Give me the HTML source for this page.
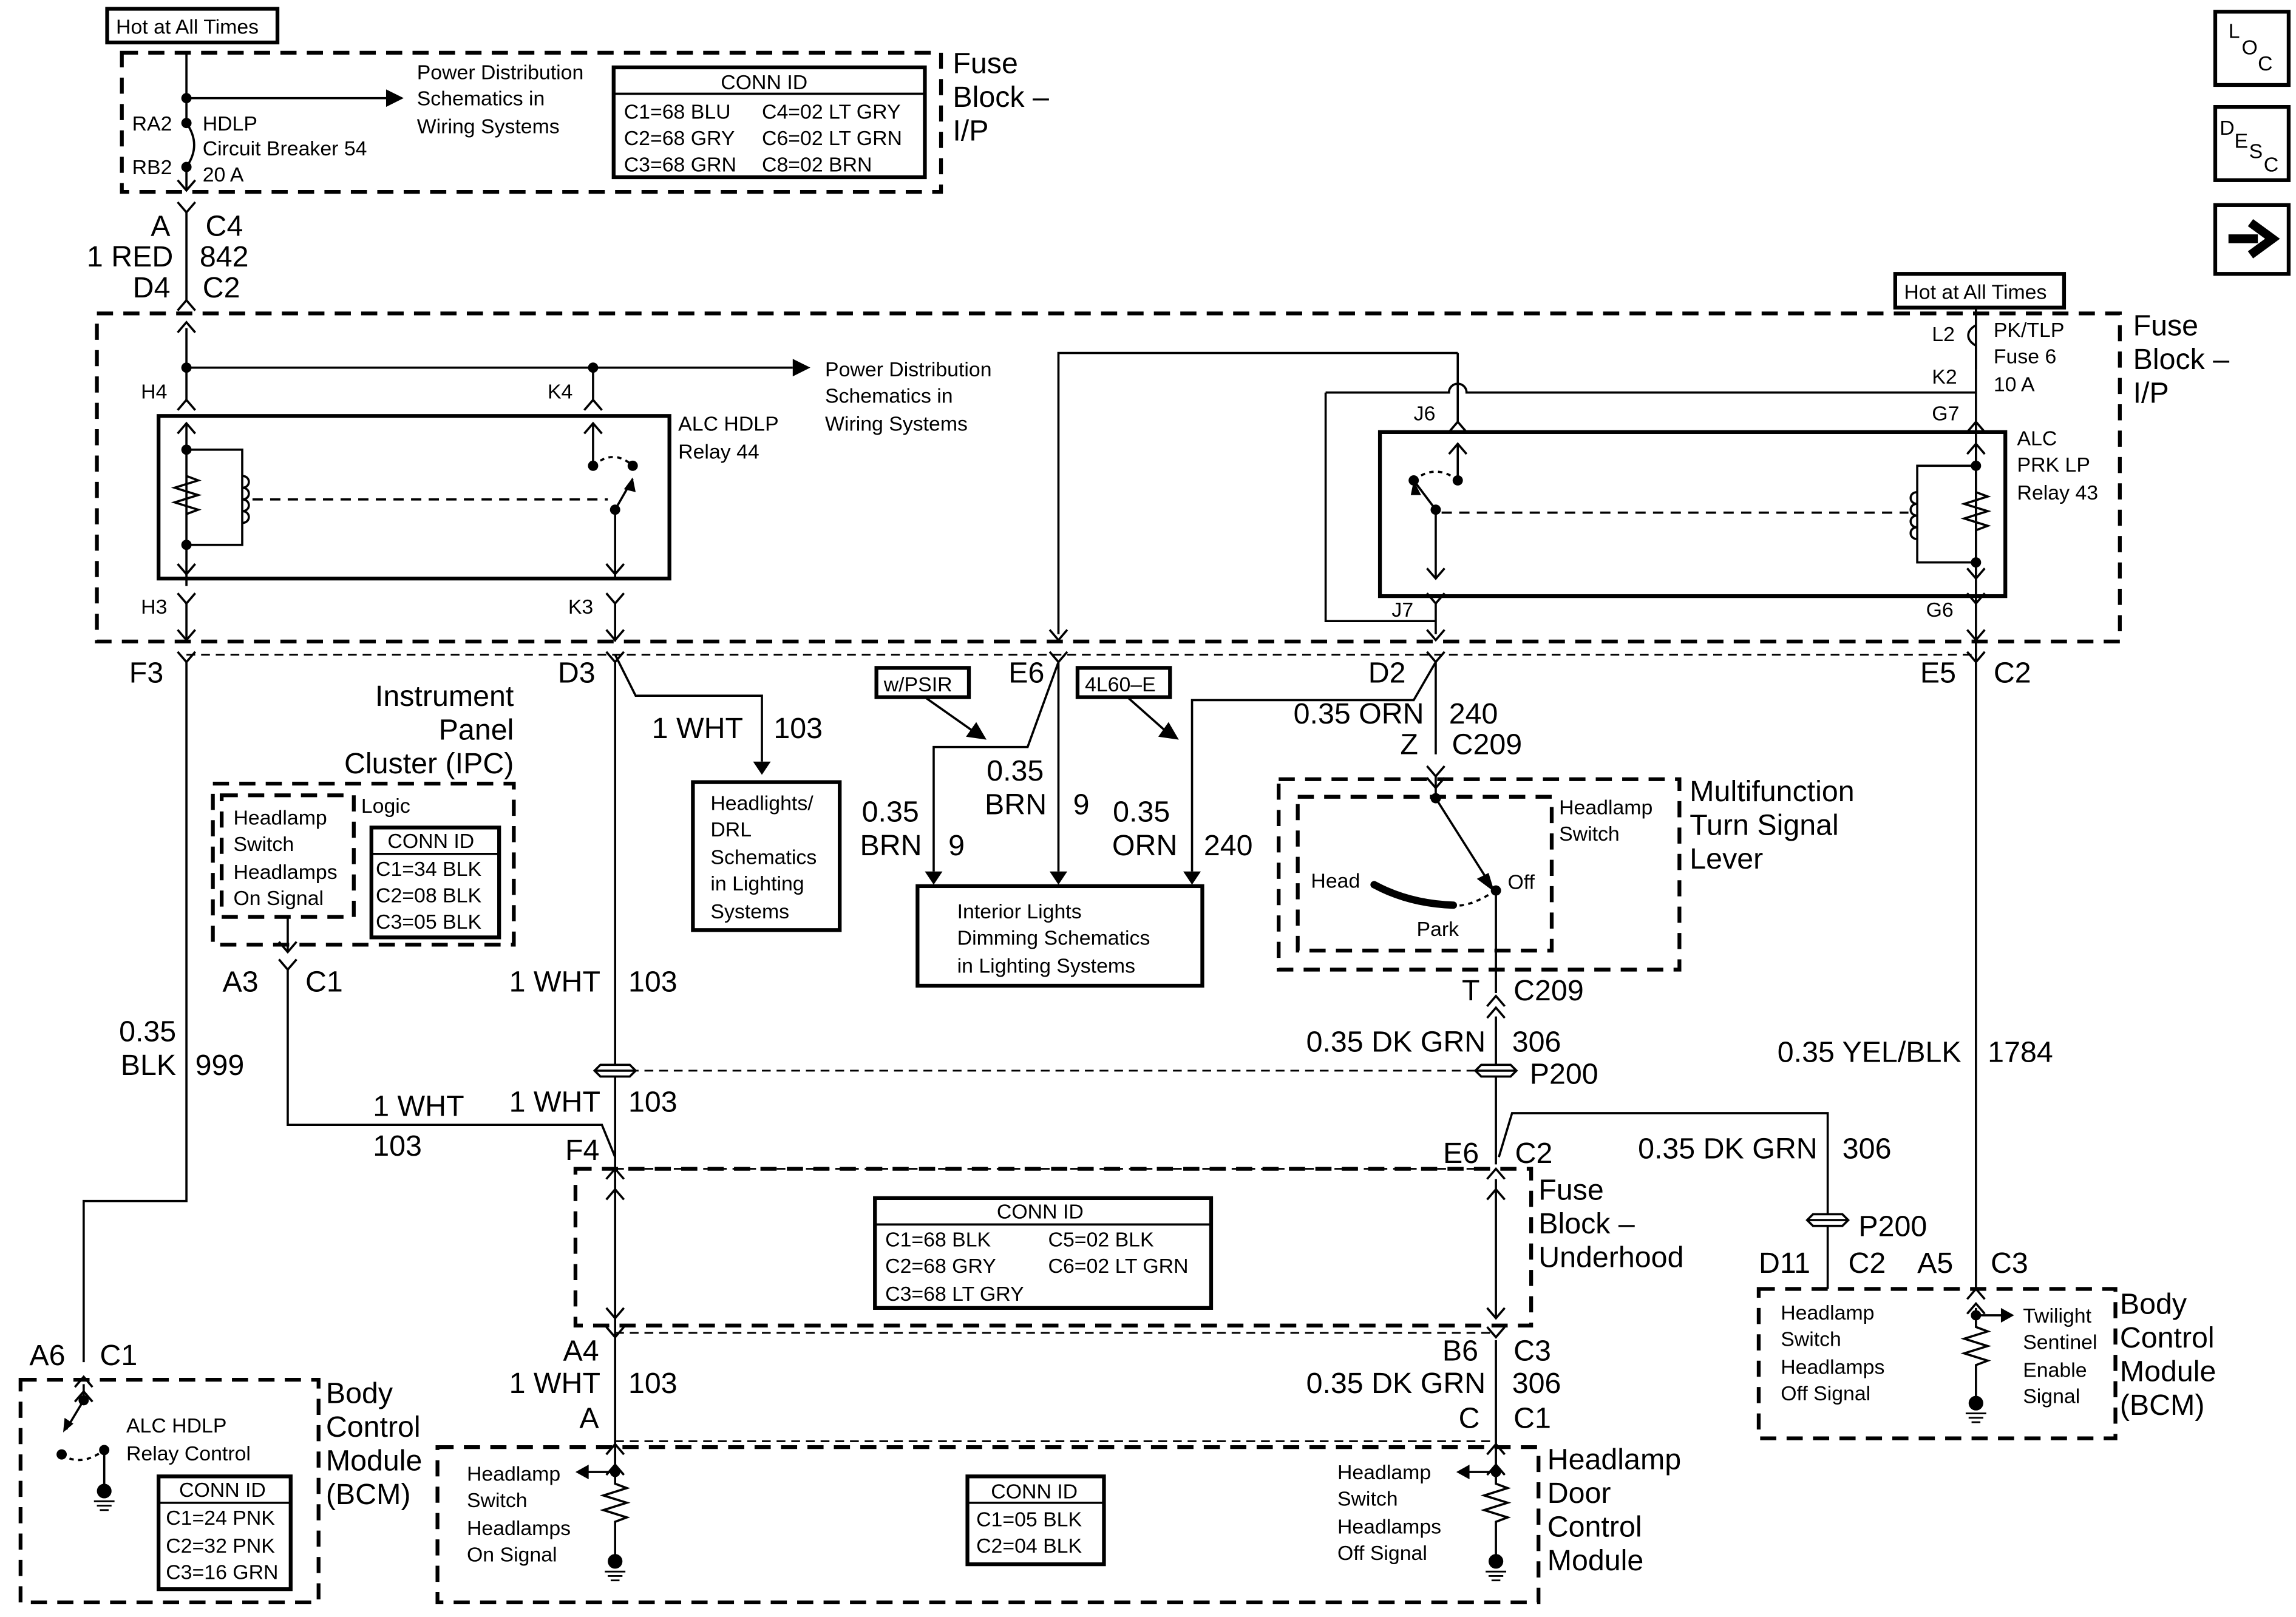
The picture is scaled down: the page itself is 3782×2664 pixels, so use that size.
<!DOCTYPE html>
<html><head><meta charset="utf-8"><style>
html,body{margin:0;padding:0;background:#fff;}
svg{display:block;}
text{font-family:"Liberation Sans",Arial,sans-serif;fill:#000;}
.s{font-size:14px;}
.m{font-size:20px;}
</style></head><body>
<svg width="3782" height="2664" viewBox="0 0 1564 1104" preserveAspectRatio="none" xmlns="http://www.w3.org/2000/svg">
<defs>
<path id="V" d="M-6,-7 L0,0 L6,-7" fill="none" stroke="#000" stroke-width="1.5"/>
<path id="A" d="M-6,7 L0,0 L6,7" fill="none" stroke="#000" stroke-width="1.5"/>
<path id="T" d="M-6,-9 L0,0 L6,-9 Z" fill="#000"/>
<g id="SP"><path d="M-10,-4 L10,-4 L14,0 L10,4 L-10,4 L-14,0 Z M-14,0 L14,0" fill="#fff" stroke="#000" stroke-width="1.5"/></g>
<g id="GND"><circle cx="0" cy="0" r="5" fill="#000"/><path d="M-7,7 H7 M-5,10 H5 M-3,13 H3" stroke="#000" stroke-width="1.2"/></g>
</defs>
<g fill="none" stroke="#000" stroke-width="1.5">
<g stroke-width="2.6" stroke-dasharray="11,7">
<rect x="83" y="36" width="558" height="95"/>
<rect x="66" y="214" width="1378" height="224"/>
<rect x="145" y="535" width="205" height="110"/>
<rect x="151" y="543" width="90" height="83"/>
<rect x="871" y="532" width="273" height="130"/>
<rect x="884" y="544" width="173" height="105"/>
<rect x="392" y="798" width="651" height="107"/>
<rect x="14" y="942" width="203" height="152"/>
<rect x="298" y="988" width="750" height="106"/>
<rect x="1198" y="880" width="243" height="102"/>
</g>
<g stroke-width="1.2" stroke-dasharray="6,4">
<path d="M127,447 H1346"/>
<path d="M419,731 H1019"/>
<path d="M419,798 H1019"/>
<path d="M419,910 H1019"/>
<path d="M419,984 H1019"/>
</g>
<g stroke-width="2.6">
<rect x="73" y="6" width="116" height="23"/>
<rect x="418" y="46" width="212" height="75"/>
<rect x="108" y="284" width="348" height="111"/>
<rect x="940" y="295" width="426" height="112"/>
<rect x="1291" y="187" width="115" height="23"/>
<rect x="253" y="565" width="87" height="75"/>
<rect x="472" y="534" width="100" height="101"/>
<rect x="625" y="605" width="194" height="68"/>
<rect x="597" y="456" width="63" height="20"/>
<rect x="734" y="456" width="63" height="20"/>
<rect x="596" y="818" width="229" height="75"/>
<rect x="108" y="1008" width="90" height="77"/>
<rect x="659" y="1008" width="93" height="60"/>
<rect x="1509" y="8" width="50" height="50"/>
<rect x="1509" y="73" width="50" height="50"/>
<rect x="1509" y="140" width="50" height="47"/>
</g>
<path d="M418,64 H630 M253,583 H340 M596,836 H825 M108,1026 H198 M659,1026 H752"/>
<path d="M127,36 V84 M127,114 V130 M127,67 H268"/>
<path d="M127,84 C134,94 134,104 127,114"/>
<path d="M127,145 V205 M127,224 V273"/>
<path d="M127,251 H540 M404,251 V273"/>
<path d="M127,289 V400 M127,307 H165 V372 H127"/>
<path d="M127,325 l8,3 l-16,5 l16,5 l-16,5 l16,5 l-8,3"/>
<path d="M165,325 c6,0 6,8 0,8 c6,0 6,8 0,8 c6,0 6,8 0,8 c6,0 6,8 0,8"/>
<path d="M172,341 H414" stroke-dasharray="7,5"/>
<path d="M404,289 V318 M419,348 L431,327 M419,348 V395"/>
<path d="M404,318 Q418,306 431,318" stroke-dasharray="3,3"/>
<path d="M127,412 V438 M419,412 V438"/>
<path d="M1346,210 V880"/>
<path d="M1346,222 c-7,4 -7,10 0,14 M1346,236 V252"/>
<path d="M993,241 H721 V433 M993,241 V262 M903,268 H987 a6,6 0 0 1 12,0 H1346 M903,268 V424 H978"/>
<path d="M993,262 V288 M993,303 V328 M978,348 L963,328 M978,348 V395 M978,412 V433"/>
<path d="M963,328 Q978,316 993,328" stroke-dasharray="3,3"/>
<path d="M982,350 H1300" stroke-dasharray="7,5"/>
<path d="M1346,303 V395 M1346,318 H1306 V384 H1346"/>
<path d="M1346,336 l8,3 l-16,5 l16,5 l-16,5 l16,5 l-8,3"/>
<path d="M1306,336 c-6,0 -6,8 0,8 c-6,0 -6,8 0,8 c-6,0 -6,8 0,8 c-6,0 -6,8 0,8"/>
<path d="M127,452 V820 H57 V930"/>
<path d="M419,452 V1000 M419,447 L433,475 H519 V520"/>
<path d="M196,626 V650 M196,662 V768 H410 L419,790"/>
<path d="M721,452 V595 M721,452 L700,510 H636 V595"/>
<path d="M630,476 L664,500 M768,476 L795,500"/>
<path d="M978,452 L963,478 H812 V595"/>
<path d="M978,452 V515 M978,530 V545 L1014,602 M1019,608 V678 M1019,694 V795 M1021,790 L1030,760 H1245 V880"/>
<path d="M1019,608 Q1000,620 990,618" stroke-dasharray="3,3"/>
<path d="M936,604 Q960,617 990,618" stroke-width="5" stroke-linecap="round"/>
<path d="M1019,805 V900 M1019,915 V1000"/>
<path d="M419,805 V900 M419,915 V1000"/>
<path d="M57,945 V956 L45,976 M71,990 V1014"/>
<path d="M42,993 Q55,1002 71,990" stroke-dasharray="3,3"/>
<path d="M419,1000 V1013 l8,3 l-16,5 l16,5 l-16,5 l16,5 l-8,3 V1062 M419,1005 H400"/>
<path d="M1019,1000 V1013 l8,3 l-16,5 l16,5 l-16,5 l16,5 l-8,3 V1062 M1019,1005 H1000"/>
<path d="M1346,893 V906 l8,3 l-16,5 l16,5 l-16,5 l16,5 l-8,3 V955 M1346,898 H1365"/>
<path d="M1518,163 H1538 M1533,152 L1548,163 L1533,174" stroke-width="6"/>
</g>
<use href="#V" x="127" y="130"/><use href="#V" x="127" y="145"/>
<use href="#A" x="127" y="205"/><use href="#A" x="127" y="220"/>
<use href="#A" x="127" y="273"/><use href="#A" x="404" y="273"/>
<use href="#A" x="127" y="289"/><use href="#V" x="127" y="392"/>
<use href="#A" x="404" y="289"/><use href="#V" x="419" y="392"/>
<use href="#V" x="127" y="412"/><use href="#V" x="127" y="437"/>
<use href="#V" x="419" y="412"/><use href="#V" x="419" y="437"/>
<use href="#V" x="127" y="452"/><use href="#V" x="419" y="452"/>
<use href="#V" x="721" y="437"/><use href="#V" x="721" y="452"/>
<use href="#V" x="978" y="412"/><use href="#V" x="978" y="437"/>
<use href="#V" x="978" y="452"/><use href="#V" x="1346" y="412"/>
<use href="#V" x="1346" y="437"/><use href="#V" x="1346" y="452"/>
<use href="#A" x="993" y="288"/><use href="#A" x="993" y="303"/>
<use href="#A" x="1346" y="288"/><use href="#A" x="1346" y="303"/>
<use href="#V" x="1346" y="395"/><use href="#V" x="978" y="395"/>
<use href="#V" x="196" y="650"/><use href="#V" x="196" y="662"/>
<use href="#V" x="978" y="530"/><use href="#V" x="978" y="538"/>
<use href="#A" x="1019" y="680"/><use href="#A" x="1019" y="688"/>
<use href="#A" x="419" y="798"/><use href="#A" x="419" y="812"/>
<use href="#A" x="1019" y="798"/><use href="#A" x="1019" y="812"/>
<use href="#V" x="419" y="900"/><use href="#V" x="419" y="913"/>
<use href="#V" x="1019" y="900"/><use href="#V" x="1019" y="913"/>
<use href="#A" x="419" y="986"/><use href="#A" x="419" y="1000"/>
<use href="#A" x="1019" y="986"/><use href="#A" x="1019" y="1000"/>
<use href="#A" x="57" y="940"/><use href="#A" x="57" y="950"/>
<use href="#A" x="1346" y="880"/><use href="#A" x="1346" y="890"/>
<use href="#T" x="519" y="529"/><use href="#T" x="636" y="604"/><use href="#T" x="721" y="604"/><use href="#T" x="812" y="604"/>
<path d="M275,67 L263,61 L263,73 Z M552,251 L540,245 L540,257 Z M672,505 L658,503 L665,493 Z M803,505 L789,503 L796,493 Z M1018,609 L1006,600 L1014,596 Z M431,326 L425,334 L433,336 Z M963,328 L968,338 L961,338 Z M43,978 L44,968 L50,972 Z M392,1005 L401,1000 L401,1010 Z M992,1005 L1001,1000 L1001,1010 Z M1372,898 L1363,893 L1363,903 Z"/>
<use href="#SP" x="419" y="731"/><use href="#SP" x="1019" y="731"/><use href="#SP" x="1245" y="833"/>
<g fill="#000"><circle cx="127" cy="67" r="3.5"/><circle cx="127" cy="84" r="3.5"/><circle cx="127" cy="114" r="3.5"/><circle cx="127" cy="251" r="3.5"/><circle cx="404" cy="251" r="3.5"/><circle cx="127" cy="307" r="3.5"/><circle cx="127" cy="372" r="3.5"/><circle cx="404" cy="318" r="3.5"/><circle cx="431" cy="318" r="3.5"/><circle cx="419" cy="348" r="3.5"/><circle cx="993" cy="328" r="3.5"/><circle cx="963" cy="328" r="3.5"/><circle cx="978" cy="348" r="3.5"/><circle cx="1346" cy="318" r="3.5"/><circle cx="1346" cy="384" r="3.5"/><circle cx="978" cy="545" r="3.5"/><circle cx="1019" cy="608" r="3.5"/><circle cx="57" cy="956" r="3.5"/><circle cx="42" cy="993" r="3.5"/><circle cx="71" cy="990" r="3.5"/><circle cx="419" cy="1005" r="3.5"/><circle cx="1019" cy="1005" r="3.5"/><circle cx="1346" cy="898" r="3.5"/></g>
<use href="#GND" x="71" y="1018"/><use href="#GND" x="419" y="1066"/><use href="#GND" x="1019" y="1066"/><use href="#GND" x="1346" y="958"/>

<g class="s">
<text x="79" y="23">Hot at All Times</text>
<text x="1297" y="204">Hot at All Times</text>
<text x="284" y="54">Power Distribution</text><text x="284" y="72">Schematics in</text><text x="284" y="91">Wiring Systems</text>
<text x="562" y="257">Power Distribution</text><text x="562" y="275">Schematics in</text><text x="562" y="294">Wiring Systems</text>
<text x="90" y="89">RA2</text><text x="90" y="119">RB2</text>
<text x="138" y="89">HDLP</text><text x="138" y="106">Circuit Breaker 54</text><text x="138" y="124">20 A</text>
<text x="491" y="61">CONN ID</text>
<text x="425" y="81">C1=68 BLU</text><text x="519" y="81">C4=02 LT GRY</text>
<text x="425" y="99">C2=68 GRY</text><text x="519" y="99">C6=02 LT GRN</text>
<text x="425" y="117">C3=68 GRN</text><text x="519" y="117">C8=02 BRN</text>
<text x="96" y="272">H4</text><text x="373" y="272">K4</text>
<text x="96" y="419">H3</text><text x="387" y="419">K3</text>
<text x="462" y="294">ALC HDLP</text><text x="462" y="313">Relay 44</text>
<text x="1316" y="233">L2</text><text x="1358" y="230">PK/TLP</text><text x="1358" y="248">Fuse 6</text><text x="1358" y="267">10 A</text>
<text x="1316" y="262">K2</text><text x="1316" y="287">G7</text><text x="963" y="287">J6</text>
<text x="948" y="421">J7</text><text x="1312" y="421">G6</text>
<text x="1374" y="304">ALC</text><text x="1374" y="322">PRK LP</text><text x="1374" y="341">Relay 43</text>
<text x="159" y="563">Headlamp</text><text x="159" y="581">Switch</text><text x="159" y="600">Headlamps</text><text x="159" y="618">On Signal</text>
<text x="246" y="555">Logic</text>
<text x="264" y="579">CONN ID</text><text x="256" y="598">C1=34 BLK</text><text x="256" y="616">C2=08 BLK</text><text x="256" y="634">C3=05 BLK</text>
<text x="484" y="553">Headlights/</text><text x="484" y="571">DRL</text><text x="484" y="590">Schematics</text><text x="484" y="608">in Lighting</text><text x="484" y="627">Systems</text>
<text x="602" y="472">w/PSIR</text><text x="739" y="472">4L60–E</text>
<text x="652" y="627">Interior Lights</text><text x="652" y="645">Dimming Schematics</text><text x="652" y="664">in Lighting Systems</text>
<text x="1062" y="556">Headlamp</text><text x="1062" y="574">Switch</text>
<text x="893" y="606">Head</text><text x="965" y="639">Park</text><text x="1027" y="607">Off</text>
<text x="679" y="832">CONN ID</text>
<text x="603" y="851">C1=68 BLK</text><text x="714" y="851">C5=02 BLK</text>
<text x="603" y="869">C2=68 GRY</text><text x="714" y="869">C6=02 LT GRN</text>
<text x="603" y="888">C3=68 LT GRY</text>
<text x="86" y="978">ALC HDLP</text><text x="86" y="997">Relay Control</text>
<text x="122" y="1022">CONN ID</text><text x="113" y="1041">C1=24 PNK</text><text x="113" y="1060">C2=32 PNK</text><text x="113" y="1078">C3=16 GRN</text>
<text x="675" y="1023">CONN ID</text><text x="665" y="1042">C1=05 BLK</text><text x="665" y="1060">C2=04 BLK</text>
<text x="318" y="1011">Headlamp</text><text x="318" y="1029">Switch</text><text x="318" y="1048">Headlamps</text><text x="318" y="1066">On Signal</text>
<text x="911" y="1010">Headlamp</text><text x="911" y="1028">Switch</text><text x="911" y="1047">Headlamps</text><text x="911" y="1065">Off Signal</text>
<text x="1213" y="901">Headlamp</text><text x="1213" y="919">Switch</text><text x="1213" y="938">Headlamps</text><text x="1213" y="956">Off Signal</text>
<text x="1378" y="903">Twilight</text><text x="1378" y="921">Sentinel</text><text x="1378" y="940">Enable</text><text x="1378" y="958">Signal</text>
<text x="1518" y="26">L</text><text x="1527" y="37">O</text><text x="1538" y="48">C</text>
<text x="1512" y="92">D</text><text x="1522" y="101">E</text><text x="1532" y="108">S</text><text x="1542" y="117">C</text>
</g>
<g class="m">
<text x="649" y="50">Fuse</text><text x="649" y="73">Block –</text><text x="649" y="96">I/P</text>
<text x="1453" y="229">Fuse</text><text x="1453" y="252">Block –</text><text x="1453" y="275">I/P</text>
<text x="116" y="161" text-anchor="end">A</text><text x="140" y="161">C4</text>
<text x="118" y="182" text-anchor="end">1 RED</text><text x="136" y="182">842</text>
<text x="116" y="203" text-anchor="end">D4</text><text x="138" y="203">C2</text>
<text x="88" y="466">F3</text><text x="380" y="466">D3</text><text x="687" y="466">E6</text><text x="932" y="466">D2</text><text x="1308" y="466">E5</text><text x="1358" y="466">C2</text>
<text x="350" y="482" text-anchor="end">Instrument</text><text x="350" y="505" text-anchor="end">Panel</text><text x="350" y="528" text-anchor="end">Cluster (IPC)</text>
<text x="444" y="504">1 WHT</text><text x="527" y="504">103</text>
<text x="711" y="533" text-anchor="end">0.35</text><text x="713" y="556" text-anchor="end">BRN</text><text x="731" y="556">9</text>
<text x="626" y="561" text-anchor="end">0.35</text><text x="628" y="584" text-anchor="end">BRN</text><text x="646" y="584">9</text>
<text x="797" y="561" text-anchor="end">0.35</text><text x="802" y="584" text-anchor="end">ORN</text><text x="820" y="584">240</text>
<text x="970" y="494" text-anchor="end">0.35 ORN</text><text x="987" y="494">240</text>
<text x="966" y="515" text-anchor="end">Z</text><text x="989" y="515">C209</text>
<text x="1151" y="547">Multifunction</text><text x="1151" y="570">Turn Signal</text><text x="1151" y="593">Lever</text>
<text x="176" y="677" text-anchor="end">A3</text><text x="208" y="677">C1</text>
<text x="409" y="677" text-anchor="end">1 WHT</text><text x="428" y="677">103</text>
<text x="1008" y="683" text-anchor="end">T</text><text x="1031" y="683">C209</text>
<text x="120" y="711" text-anchor="end">0.35</text><text x="120" y="734" text-anchor="end">BLK</text><text x="133" y="734">999</text>
<text x="1012" y="718" text-anchor="end">0.35 DK GRN</text><text x="1030" y="718">306</text>
<text x="1042" y="740">P200</text>
<text x="1336" y="725" text-anchor="end">0.35 YEL/BLK</text><text x="1354" y="725">1784</text>
<text x="254" y="762">1 WHT</text><text x="254" y="789">103</text>
<text x="409" y="759" text-anchor="end">1 WHT</text><text x="428" y="759">103</text>
<text x="385" y="792">F4</text><text x="983" y="794">E6</text><text x="1032" y="794">C2</text>
<text x="1238" y="791" text-anchor="end">0.35 DK GRN</text><text x="1255" y="791">306</text>
<text x="1266" y="844">P200</text>
<text x="1048" y="819">Fuse</text><text x="1048" y="842">Block –</text><text x="1048" y="865">Underhood</text>
<text x="1198" y="869">D11</text><text x="1259" y="869">C2</text><text x="1306" y="869">A5</text><text x="1356" y="869">C3</text>
<text x="1444" y="897">Body</text><text x="1444" y="920">Control</text><text x="1444" y="943">Module</text><text x="1444" y="966">(BCM)</text>
<text x="20" y="932">A6</text><text x="68" y="932">C1</text>
<text x="408" y="929" text-anchor="end">A4</text><text x="1007" y="929" text-anchor="end">B6</text><text x="1031" y="929">C3</text>
<text x="409" y="951" text-anchor="end">1 WHT</text><text x="428" y="951">103</text>
<text x="1012" y="951" text-anchor="end">0.35 DK GRN</text><text x="1030" y="951">306</text>
<text x="408" y="975" text-anchor="end">A</text><text x="1008" y="975" text-anchor="end">C</text><text x="1031" y="975">C1</text>
<text x="222" y="958">Body</text><text x="222" y="981">Control</text><text x="222" y="1004">Module</text><text x="222" y="1027">(BCM)</text>
<text x="1054" y="1003">Headlamp</text><text x="1054" y="1026">Door</text><text x="1054" y="1049">Control</text><text x="1054" y="1072">Module</text>
</g>
</svg>
</body></html>
